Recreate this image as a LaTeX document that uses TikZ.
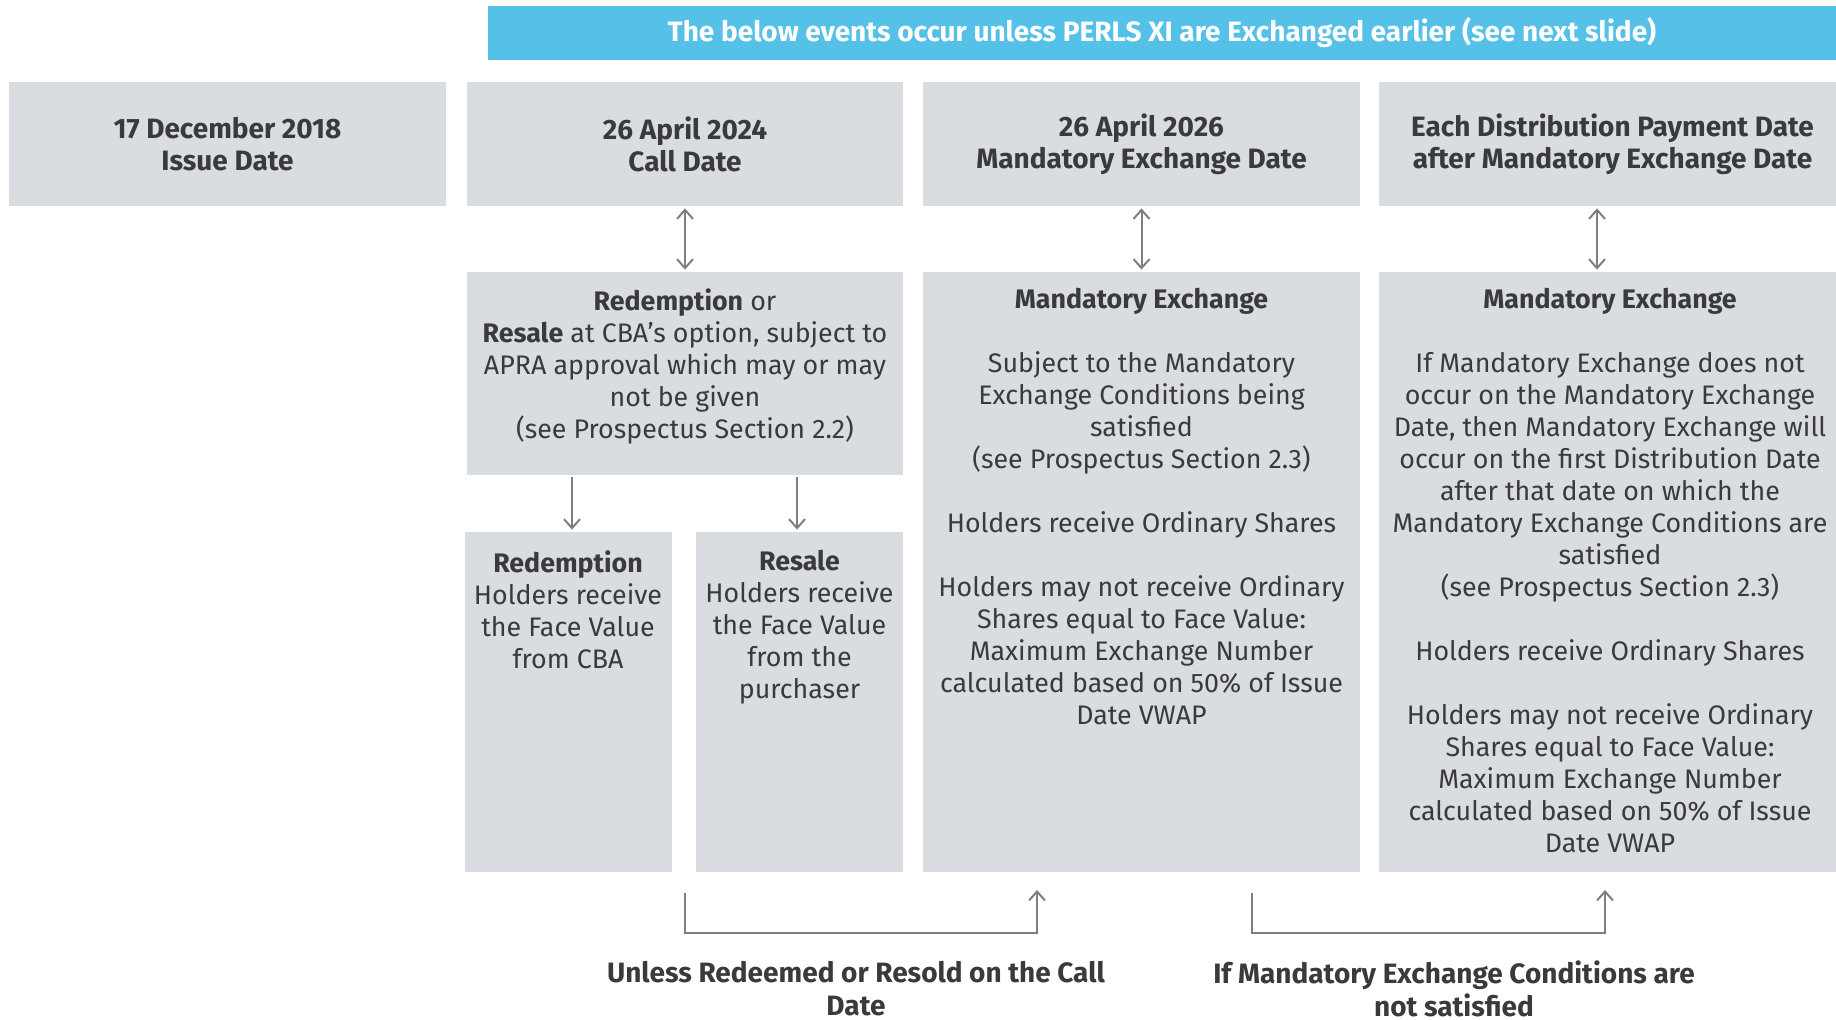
\documentclass[tikz,border=0pt]{standalone}
\usepackage{fontspec}
\setmainfont{Fira Sans}
\usetikzlibrary{arrows.meta}
\definecolor{boxgrey}{HTML}{D9DCE1}
\definecolor{bannerblue}{HTML}{55C1E8}
\definecolor{txtgrey}{HTML}{3A3A3A}
\definecolor{linegrey}{HTML}{7F7F7F}

\begin{document}
\begin{tikzpicture}[x=0.5pt,y=-0.5pt,font=\fontsize{13.4}{16}\selectfont,text=txtgrey]
  \tikzstyle{box}=[fill=boxgrey,inner sep=0pt,align=center]
  \tikzstyle{head}=[font=\bfseries\fontsize{14}{16}\selectfont]
  \tikzstyle{txt}=[align=center,inner sep=0pt,anchor=north]
  \tikzstyle{link}=[draw=linegrey,line width=1pt,shorten >=1pt,shorten <=1pt,-{Straight Barb[length=4.5pt,width=8pt]}]
  \tikzstyle{both}=[link,{Straight Barb[length=4.5pt,width=8pt]}-{Straight Barb[length=4.5pt,width=8pt]}]
  \useasboundingbox (0,0) rectangle (1836,1020);

  \node[fill=bannerblue,minimum width=674pt,minimum height=27pt,inner sep=0pt,text=white,head] (B) at (1162,33)
    {The below events occur unless PERLS XI are Exchanged earlier (see next slide)};

  % dates
  \node[box,head,minimum width=218.5pt,minimum height=62pt] (D_1) at (227.5,144) {17 December 2018\\Issue Date};
  \node[box,head,minimum width=218pt,minimum height=62pt] (D_2) at (685,144) {26 April 2024\\Call Date};
  \node[box,head,minimum width=218.5pt,minimum height=62pt] (D_3) at (1141.5,144) {26 April 2026\\Mandatory Exchange Date};
  \node[box,head,minimum width=228.5pt,minimum height=62pt] (D_4) at (1607.5,144) {\hspace*{5pt}Each Distribution Payment Date\\\hspace*{5pt}after Mandatory Exchange Date};

  % events
  \node[box,minimum width=218pt,minimum height=101.5pt] (E_1) at (685,373.5) {};
  \node[box,minimum width=218.5pt,minimum height=300pt] (E_2) at (1141.5,572) {};
  \node[box,minimum width=228.5pt,minimum height=300pt] (E_3) at (1607.5,572) {};
  \node[box,minimum width=103.5pt,minimum height=170pt] (R_1) at (568,702) {};
  \node[box,minimum width=103.5pt,minimum height=170pt] (R_2) at (799.5,702) {};

  \node[txt] (E_1t) at (685,288) {\textbf{Redemption} or\\\textbf{Resale} at CBA’s option, subject to\\APRA approval which may or may\\not be given\\(see Prospectus Section 2.2)};
  \node[txt] (E_2t) at (1141.5,288) {\textbf{Mandatory Exchange}\\[16pt]
    Subject to the Mandatory\\Exchange Conditions being\\satisfied\\(see Prospectus Section 2.3)\\[16pt]
    Holders receive Ordinary Shares\\[16pt]
    Holders may not receive Ordinary\\Shares equal to Face Value:\\Maximum Exchange Number\\calculated based on 50\% of Issue\\Date VWAP};
  \node[txt] (E_3t) at (1610,288) {\textbf{Mandatory Exchange}\\[16pt]
    If Mandatory Exchange does not\\occur on the Mandatory Exchange\\Date, then Mandatory Exchange will\\occur on the first Distribution Date\\after that date on which the\\Mandatory Exchange Conditions are\\satisfied\\(see Prospectus Section 2.3)\\[16pt]
    Holders receive Ordinary Shares\\[16pt]
    Holders may not receive Ordinary\\Shares equal to Face Value:\\Maximum Exchange Number\\calculated based on 50\% of Issue\\Date VWAP};
  \node[txt] (R_1t) at (568,550) {\textbf{Redemption}\\Holders receive\\the Face Value\\from CBA};
  \node[txt] (R_2t) at (799.5,550) {\textbf{Resale}\\Holders receive\\the Face Value\\from the\\purchaser};

  \draw[both] (D_2.south -| 685,0) -- (E_1);
  \draw[both] (D_3.south -| 1141.5,0) -- (E_2);
  \draw[both] (D_4.south -| 1597,0) -- (E_3.north -| 1597,0);
  \draw[link] (E_1.south -| 572,0) -- (R_1.north -| 572,0);
  \draw[link] (E_1.south -| 797,0) -- (R_2.north -| 797,0);

  % loops back
  \coordinate (c_1) at (685,893);
  \coordinate (c_2) at (1037,890);
  \coordinate (c_3) at (1252,893);
  \coordinate (c_4) at (1605,890);
  \draw[link,shorten >=0pt,shorten <=0pt] (c_1) -- ++(0,40) -| (c_2);
  \draw[link,shorten >=0pt,shorten <=0pt] (c_3) -- ++(0,40) -| (c_4);

  \node[align=center,font=\bfseries\fontsize{14}{16.4}\selectfont] (L_1) at (856,989) {Unless Redeemed or Resold on the Call\\Date};
  \node[align=center,font=\bfseries\fontsize{14}{16.4}\selectfont] (L_2) at (1454,989) {If Mandatory Exchange Conditions are\\not satisfied};
\end{tikzpicture}
\end{document}
